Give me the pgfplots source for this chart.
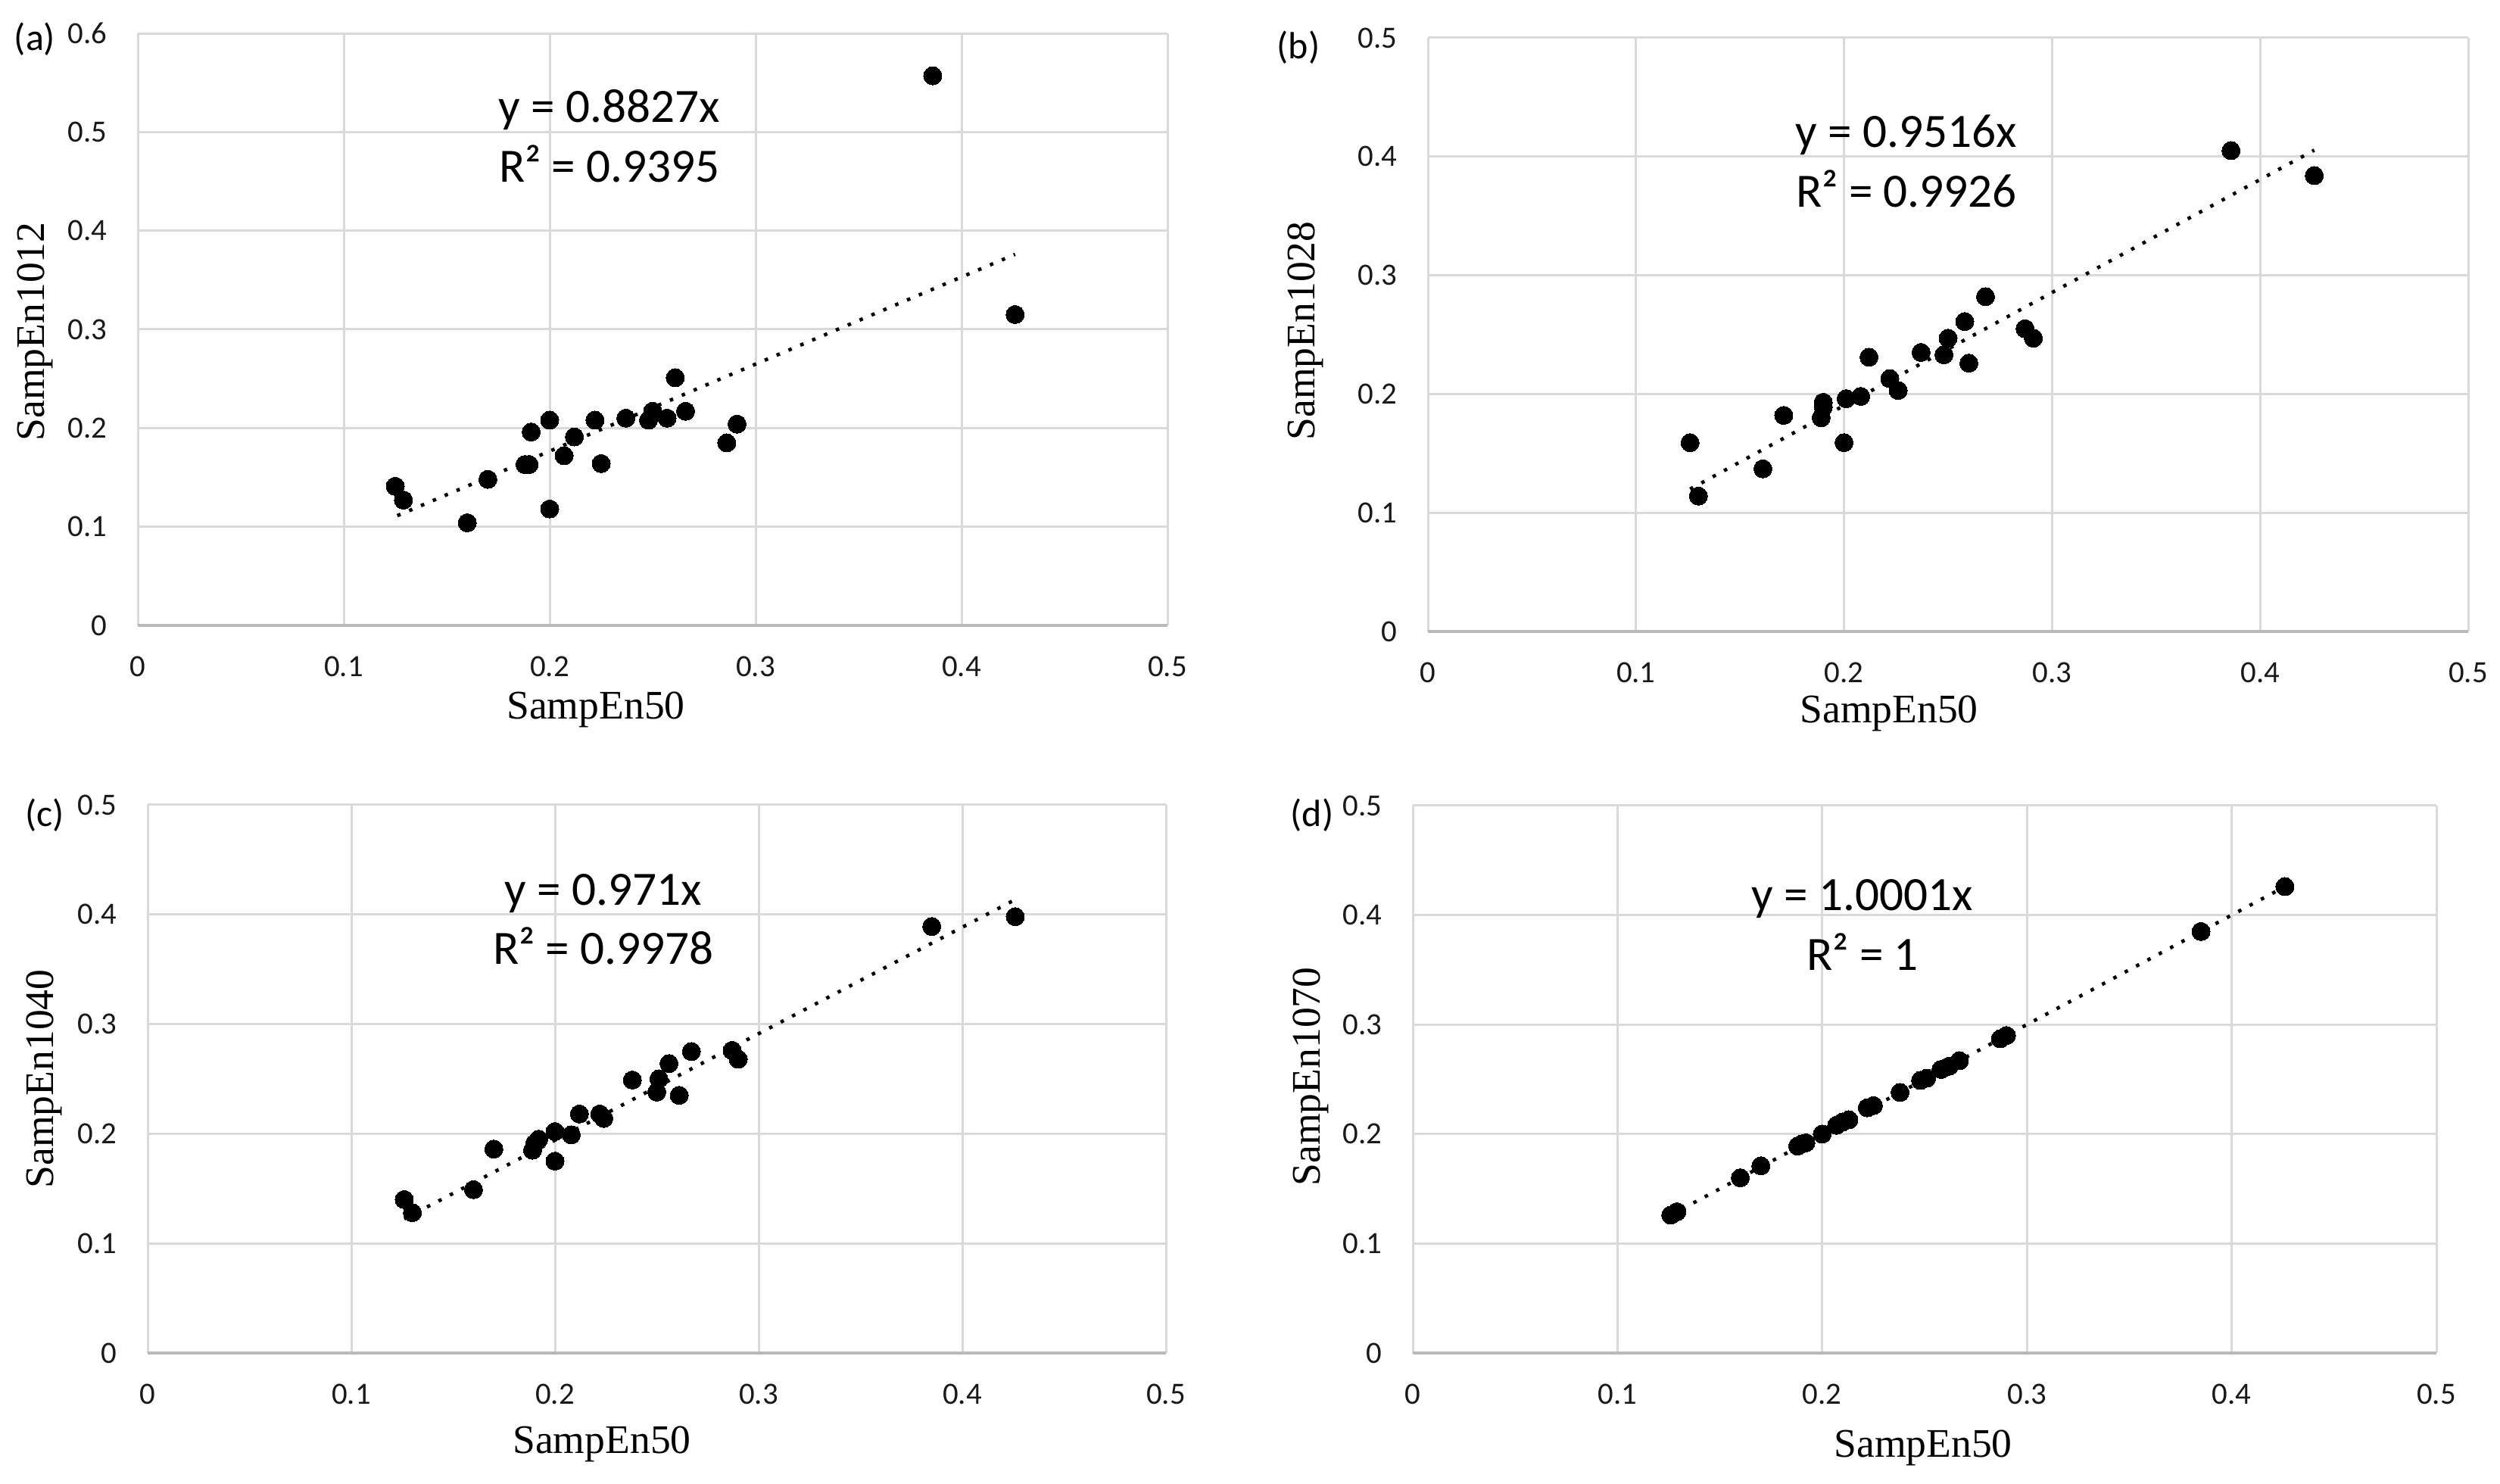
\documentclass[border=0pt]{standalone}
\usepackage{fontspec}
\setmainfont{Carlito}
\newfontfamily\seriffont{Liberation Serif}
\usepackage{pgfplots}
\pgfplotsset{compat=1.18}
\pgfplotsset{
  panel/.style={
    scale only axis, xmin=0, xmax=0.5, ymin=0,
    xtick={0,0.1,0.2,0.3,0.4,0.5}, xticklabels={0,0.1,0.2,0.3,0.4,0.5},
    grid=major, major grid style={draw=gray!30, line width=0.75bp},
    axis line style={draw=none}, tick style={draw=none},
    ticklabel style={font=\fontsize{10.2bp}{12bp}\selectfont, text=black!90},
    xticklabel style={yshift=-6.8bp},
    yticklabel style={xshift=-6.6bp},
    extra y ticks={0}, extra y tick labels={},
    extra y tick style={major grid style={draw=gray!55, line width=1bp}},
    clip=false, anchor=south west,
  },
  pts/.style={only marks, mark=*, mark size=3bp, mark options={fill=black, draw=black, line width=0pt}},
  trend/.style={black, line width=1.15bp, dash pattern=on 1.15bp off 3.1bp},
}
\newcommand{\eqfont}{\fontsize{15.8bp}{18bp}\selectfont}
\newcommand{\labfont}{\seriffont\fontsize{13.4bp}{15bp}\selectfont}
\newcommand{\pfont}{\fontsize{12.5bp}{14bp}\selectfont}
\begin{document}
\begin{tikzpicture}
\path[use as bounding box] (0,0) rectangle (825.5bp,490bp);
% (a)
\begin{axis}[panel, at={(45.5bp,283.5bp)}, width=340bp, height=195.5bp, ymax=0.6,
  ytick={0,0.1,0.2,0.3,0.4,0.5,0.6}, yticklabels={0,0.1,0.2,0.3,0.4,0.5,0.6}]
\addplot[trend] coordinates {(0.126,0.1112) (0.426,0.3760)};
\addplot[pts] table {
x y
0.125 0.141
0.129 0.127
0.160 0.104
0.170 0.148
0.188 0.163
0.190 0.163
0.191 0.196
0.200 0.208
0.200 0.118
0.207 0.172
0.212 0.191
0.222 0.208
0.225 0.164
0.237 0.210
0.248 0.208
0.250 0.217
0.257 0.210
0.261 0.251
0.266 0.217
0.286 0.185
0.291 0.204
0.386 0.557
0.426 0.315
};
\end{axis}
% (b)
\begin{axis}[panel, at={(471.5bp,281.5bp)}, width=343.5bp, height=196bp, ymax=0.5,
  ytick={0,0.1,0.2,0.3,0.4,0.5}, yticklabels={0,0.1,0.2,0.3,0.4,0.5}]
\addplot[trend] coordinates {(0.126,0.1199) (0.426,0.4054)};
\addplot[pts] table {
x y
0.126 0.159
0.130 0.114
0.161 0.137
0.171 0.182
0.189 0.180
0.190 0.189
0.190 0.193
0.200 0.159
0.201 0.196
0.208 0.198
0.212 0.231
0.222 0.213
0.226 0.203
0.237 0.235
0.248 0.233
0.250 0.247
0.258 0.261
0.260 0.226
0.268 0.282
0.287 0.255
0.291 0.247
0.386 0.405
0.426 0.384
};
\end{axis}
% (c)
\begin{axis}[panel, at={(48.75bp,43.25bp)}, width=336.25bp, height=181bp, ymax=0.5,
  ytick={0,0.1,0.2,0.3,0.4,0.5}, yticklabels={0,0.1,0.2,0.3,0.4,0.5}]
\addplot[trend] coordinates {(0.126,0.1223) (0.426,0.4136)};
\addplot[pts] table {
x y
0.126 0.140
0.130 0.128
0.160 0.149
0.170 0.186
0.189 0.185
0.190 0.191
0.192 0.195
0.200 0.202
0.200 0.175
0.208 0.199
0.212 0.218
0.222 0.218
0.224 0.214
0.238 0.249
0.250 0.238
0.251 0.250
0.256 0.264
0.261 0.235
0.267 0.275
0.287 0.276
0.290 0.268
0.385 0.389
0.426 0.398
};
\end{axis}
% (d)
\begin{axis}[panel, at={(466.5bp,43.25bp)}, width=338bp, height=180.75bp, ymax=0.5,
  ytick={0,0.1,0.2,0.3,0.4,0.5}, yticklabels={0,0.1,0.2,0.3,0.4,0.5}]
\addplot[trend] coordinates {(0.126,0.1260) (0.426,0.4260)};
\addplot[pts] table {
x y
0.126 0.126
0.129 0.129
0.160 0.160
0.170 0.171
0.188 0.189
0.190 0.191
0.192 0.192
0.200 0.200
0.207 0.208
0.210 0.211
0.213 0.213
0.222 0.224
0.225 0.226
0.238 0.238
0.248 0.249
0.251 0.251
0.258 0.259
0.262 0.262
0.267 0.267
0.287 0.287
0.290 0.290
0.385 0.385
0.426 0.426
};
\end{axis}
% panel letters
\node[font=\pfont] at (11.5bp,477bp) {(a)};
\node[font=\pfont] at (428.75bp,474.25bp) {(b)};
\node[font=\pfont] at (14.75bp,220.75bp) {(c)};
\node[font=\pfont] at (433.25bp,220.75bp) {(d)};
% equations
\node[font=\eqfont, anchor=base] at (201.25bp,449.5bp) {y = 0.8827x};
\node[font=\eqfont, anchor=base] at (201.25bp,429.75bp) {R² = 0.9395};
\node[font=\eqfont, anchor=base] at (629.5bp,441.25bp) {y = 0.9516x};
\node[font=\eqfont, anchor=base] at (629.5bp,421.5bp) {R² = 0.9926};
\node[font=\eqfont, anchor=base] at (199.25bp,191bp) {y = 0.971x};
\node[font=\eqfont, anchor=base] at (199.25bp,171.5bp) {R² = 0.9978};
\node[font=\eqfont, anchor=base] at (615bp,189.25bp) {y = 1.0001x};
\node[font=\eqfont, anchor=base] at (615bp,169.5bp) {R² = 1};
% axis labels
\node[font=\labfont] at (196.75bp,255.75bp) {SampEn50};
\node[font=\labfont] at (623.75bp,254.5bp) {SampEn50};
\node[font=\labfont] at (198.75bp,13.25bp) {SampEn50};
\node[font=\labfont] at (635bp,12bp) {SampEn50};
\node[font=\labfont, rotate=90] at (11.5bp,380.5bp) {SampEn1012};
\node[font=\labfont, rotate=90] at (431bp,380.75bp) {SampEn1028};
\node[font=\labfont, rotate=90] at (14.5bp,133.75bp) {SampEn1040};
\node[font=\labfont, rotate=90] at (432.75bp,134.5bp) {SampEn1070};
\end{tikzpicture}
\end{document}
